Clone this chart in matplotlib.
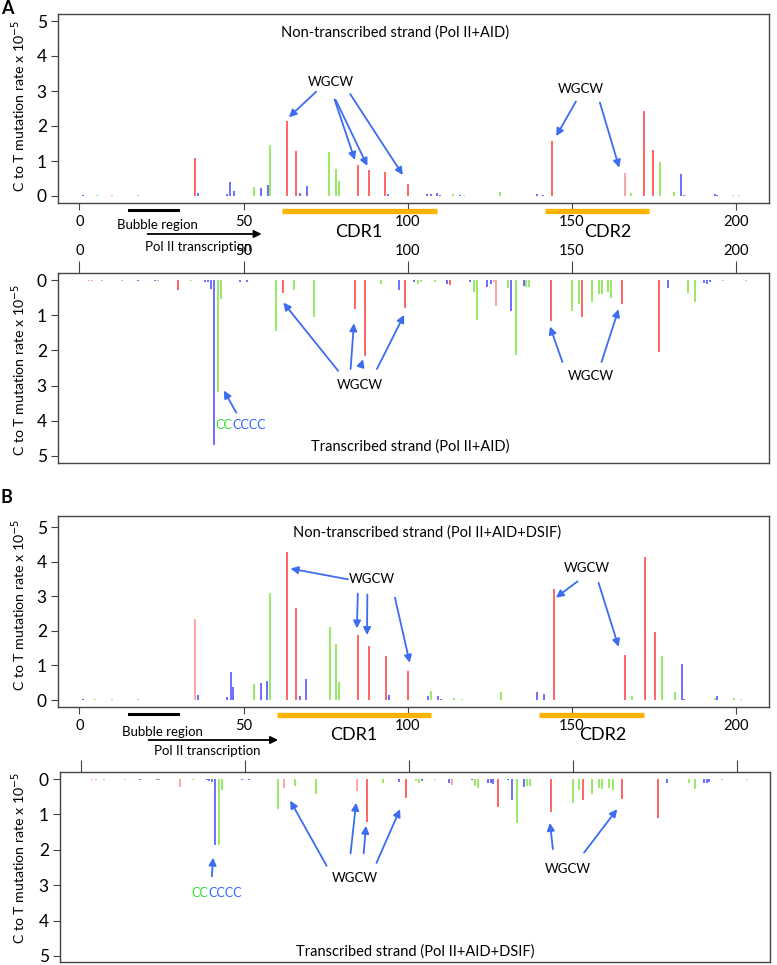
import matplotlib
matplotlib.use("Agg")
import matplotlib.pyplot as plt
from matplotlib.transforms import blended_transform_factory

plt.rcParams['font.family'] = ['Lato', 'DejaVu Sans']

# ---------------- data ----------------
# color codes: r=red, p=pink(light red), g=green, b=blue
A_nt_pos = [1, 5.3, 10, 18, 35.1, 36.2, 45, 46, 47, 53.3, 55.2, 57.3, 58, 63.2, 66, 67.1, 69.2, 76.1, 78.2, 79,
            85, 88.2, 93.2, 94, 100.1, 106, 107.2, 109, 109.8, 113.9, 116, 117, 128, 139.3, 141.2, 144, 166.2,
            168.1, 172, 174.8, 176.8, 181.1, 183.1, 184, 193.5, 194.2, 199, 201]
A_nt_val = [0.02, 0.02, 0.02, 0.02, 1.08, 0.1, 0.06, 0.41, 0.15, 0.26, 0.24, 0.31, 1.46, 2.14, 1.29, 0.1, 0.3, 1.25,
            0.76, 0.43, 0.88, 0.75, 0.7, 0.06, 0.35, 0.06, 0.07, 0.1, 0.04, 0.06, 0.02, 0.02, 0.11, 0.06, 0.04,
            1.57, 0.67, 0.1, 2.43, 1.31, 0.98, 0.12, 0.62, 0.02, 0.06, 0.03, 0.03, 0.03]
A_nt_col = ['b', 'g', 'p', 'p', 'r', 'b', 'b', 'b', 'b', 'g', 'b', 'b', 'g', 'r', 'r', 'b', 'b', 'g', 'g', 'g',
            'r', 'r', 'r', 'b', 'r', 'b', 'b', 'b', 'b', 'g', 'b', 'g', 'g', 'b', 'b', 'r', 'p', 'g', 'r', 'r',
            'g', 'g', 'b', 'b', 'b', 'b', 'g', 'g']

A_t_pos = [2.8, 3.8, 7, 13, 17.8, 23, 24, 30.1, 34, 38.3, 39.2, 40.1, 41, 42.2, 43, 48.9, 51, 60, 62, 65.3, 71.5,
           84, 87.1, 92, 97.2, 99.2, 102, 103, 104, 108.2, 112, 113, 119, 120.1, 121.1, 124.2, 125.3, 126.3, 127,
           130.4, 131.3, 133, 135.3, 136.1, 137, 143.5, 150, 152, 153, 156.1, 158.2, 159, 161.1, 162, 165.1,
           176.4, 179.2, 185.3, 187.4, 190.3, 191, 192, 196, 203]
A_t_val = [0.03, 0.03, 0.03, 0.03, 0.03, 0.03, 0.03, 0.27, 0.03, 0.05, 0.05, 0.26, 4.68, 3.18, 0.55, 0.05, 0.05,
           1.45, 0.38, 0.27, 1.06, 0.83, 2.15, 0.12, 0.28, 0.8, 0.06, 0.12, 0.06, 0.06, 0.1, 0.15, 0.05, 0.33,
           1.13, 0.19, 0.12, 0.05, 0.75, 0.24, 0.87, 2.14, 0.17, 0.19, 0.19, 1.16, 0.87, 0.68, 1.04, 0.61, 0.4,
           0.4, 0.33, 0.52, 0.69, 2.05, 0.24, 0.38, 0.61, 0.08, 0.1, 0.05, 0.03, 0.03]
A_t_col = ['p', 'p', 'p', 'p', 'b', 'b', 'p', 'r', 'g', 'b', 'b', 'b', 'b', 'g', 'g', 'b', 'b', 'g', 'r', 'g', 'g',
           'r', 'r', 'g', 'b', 'r', 'b', 'g', 'g', 'g', 'b', 'r', 'b', 'g', 'g', 'b', 'b', 'p', 'p', 'g', 'b', 'g',
           'b', 'g', 'g', 'r', 'g', 'g', 'r', 'g', 'g', 'g', 'g', 'g', 'r', 'r', 'b', 'g', 'g', 'b', 'b', 'b',
           'p', 'g']

B_nt_pos = [1, 4.9, 9.9, 18, 35.1, 36.1, 45.1, 46.1, 46.9, 53.2, 55.2, 57.1, 58.1, 63.2, 66, 67.1, 69.1, 76.3,
            78.3, 79.1, 85, 88.2, 93.3, 94.2, 100.1, 106.1, 107.2, 109.2, 110, 114, 116.4, 128.3, 139.4, 141.4,
            144.4, 166.3, 168.2, 172.3, 175.3, 177.3, 181.3, 183.4, 184, 193.5, 194.3, 199.3, 201.4]
B_nt_val = [0.03, 0.03, 0.03, 0.03, 2.34, 0.16, 0.1, 0.8, 0.39, 0.46, 0.48, 0.55, 3.1, 4.28, 2.66, 0.13, 0.61,
            2.1, 1.63, 0.53, 1.88, 1.55, 1.28, 0.16, 0.84, 0.12, 0.25, 0.13, 0.03, 0.05, 0.03, 0.22, 0.23, 0.17,
            3.2, 1.31, 0.12, 4.13, 1.96, 1.28, 0.23, 1.05, 0.03, 0.05, 0.12, 0.05, 0.03]
B_nt_col = ['b', 'g', 'p', 'p', 'p', 'b', 'b', 'b', 'b', 'g', 'b', 'b', 'g', 'r', 'r', 'b', 'b', 'g', 'g', 'g',
            'r', 'r', 'r', 'b', 'r', 'b', 'g', 'b', 'b', 'g', 'g', 'g', 'b', 'b', 'r', 'r', 'g', 'r', 'r', 'g',
            'g', 'b', 'b', 'g', 'b', 'g', 'g']

B_t_pos = [3.2, 4.4, 7, 13.2, 18, 23, 23.8, 30.2, 34, 38.2, 39, 39.9, 40.9, 42, 42.8, 48.9, 51, 60, 61.9, 65.1,
           71.6, 84, 87, 92.1, 97, 99, 102, 103, 104, 107.8, 112, 113, 119, 120, 121, 124.1, 124.8, 125.6, 127,
           130, 131.2, 132.8, 135, 135.9, 136.7, 143.1, 149.9, 151.8, 153, 155.8, 157.9, 158.9, 160.8, 162,
           164.8, 175.9, 178.7, 185.3, 187.1, 190, 190.7, 191.4, 195.3, 203]
B_t_val = [0.03, 0.03, 0.03, 0.03, 0.03, 0.03, 0.03, 0.22, 0.03, 0.03, 0.05, 0.08, 1.87, 1.87, 0.31, 0.03, 0.03,
           0.85, 0.24, 0.19, 0.41, 0.33, 1.21, 0.12, 0.08, 0.54, 0.06, 0.12, 0.06, 0.03, 0.1, 0.16, 0.03, 0.19,
           0.26, 0.1, 0.12, 0.14, 0.8, 0.03, 0.59, 1.25, 0.22, 0.19, 0.19, 0.94, 0.67, 0.31, 0.58, 0.42, 0.26,
           0.29, 0.26, 0.31, 0.56, 1.11, 0.12, 0.12, 0.28, 0.1, 0.12, 0.08, 0.03, 0.03]
B_t_col = ['p', 'p', 'p', 'p', 'b', 'b', 'p', 'p', 'g', 'b', 'b', 'b', 'b', 'g', 'g', 'b', 'b', 'g', 'p', 'g', 'g',
           'p', 'r', 'g', 'b', 'r', 'g', 'g', 'b', 'g', 'b', 'p', 'b', 'g', 'g', 'b', 'b', 'b', 'r', 'b', 'b', 'g',
           'b', 'g', 'g', 'r', 'g', 'g', 'r', 'g', 'g', 'g', 'g', 'g', 'r', 'r', 'b', 'g', 'g', 'b', 'b', 'b',
           'p', 'g']

x_ticks = [0, 50, 100, 150, 200]
y_ticks = [0, 1, 2, 3, 4, 5]

COLORS = {'r': '#ff3b3b', 'p': '#ff8a8a', 'g': '#7de33a', 'b': '#4646ff'}
ARROW = '#3c6cf0'

W, H = 777, 965
fig = plt.figure(figsize=(W / 100, H / 100), dpi=100)


def add_ax(left, top, right, bottom):
    return fig.add_axes([left / W, 1 - bottom / H, (right - left) / W, (bottom - top) / H])


XLIM = (-6.5, 210)


def style(ax, ylim, top_axis, show_xlabels=True):
    ax.set_xlim(*XLIM)
    ax.set_ylim(*ylim)
    for s in ax.spines.values():
        s.set_color('#444444')
        s.set_linewidth(1.0)
    ax.set_yticks(y_ticks)
    ax.set_xticks(x_ticks)
    ax.tick_params(axis='y', labelsize=12.5, length=5, color='#444444', pad=3)
    if top_axis:
        ax.xaxis.tick_top()
        ax.tick_params(axis='x', labelsize=10.5, length=9, color='#444444', pad=2,
                       labeltop=show_xlabels)
    else:
        ax.tick_params(axis='x', labelsize=10.5, length=5, color='#444444', pad=4)


def bars(ax, pos, val, col):
    for x, v, c in zip(pos, val, col):
        ax.vlines(x, 0, v, colors=COLORS[c], lw=1.1)


def arrow(ax, xy_from, xy_to):
    ax.annotate('', xy=xy_to, xytext=xy_from,
                arrowprops=dict(arrowstyle='-|>', color=ARROW, lw=1.3, mutation_scale=11,
                                shrinkA=0, shrinkB=0))


def ylabel(ycenter):
    fig.text(19 / W, 1 - ycenter / H, r'C to T mutation rate x 10$^{-5}$', rotation=90,
             ha='center', va='center', fontsize=10.2)


def cccccc(ax, xsplit, y):
    ax.text(xsplit, y, 'CC', color='#33dd33', ha='right', va='center', fontsize=9)
    ax.text(xsplit, y, 'CCCC', color='#3366ff', ha='left', va='center', fontsize=9)


def between(ax, yb_line, yb_text, y_arrow, arrow_x, y_pol, pol_x, y_cdr, cdr1, cdr2, y_cdrtext,
            cdr1_x, cdr2_x, bub_x):
    tr = blended_transform_factory(ax.transData, fig.transFigure)
    fy = lambda p: 1 - p / H
    ax.plot([15, 30], [fy(yb_line)] * 2, color='black', lw=2.2, transform=tr, clip_on=False)
    ax.text(bub_x, fy(yb_text), 'Bubble region', transform=tr, ha='center', va='center', fontsize=9.5)
    ax.annotate('', xy=(arrow_x[1], fy(y_arrow)), xytext=(arrow_x[0], fy(y_arrow)),
                xycoords=tr, textcoords=tr,
                arrowprops=dict(arrowstyle='-|>', color='black', lw=1.3, mutation_scale=11,
                                shrinkA=0, shrinkB=0))
    ax.text(pol_x, fy(y_pol), 'Pol II transcription', transform=tr, ha='center', va='center', fontsize=9.5)
    ax.plot(cdr1, [fy(y_cdr)] * 2, color='#ffb300', lw=3.8, transform=tr, clip_on=False,
            solid_capstyle='butt')
    ax.plot(cdr2, [fy(y_cdr)] * 2, color='#ffb300', lw=3.8, transform=tr, clip_on=False,
            solid_capstyle='butt')
    ax.text(cdr1_x, fy(y_cdrtext), 'CDR1', transform=tr, ha='center', va='center', fontsize=13)
    ax.text(cdr2_x, fy(y_cdrtext), 'CDR2', transform=tr, ha='center', va='center', fontsize=13)


TFS = 10.5  # panel title size
WFS = 9.5   # WGCW size

# ---------------- Panel A: non-transcribed ----------------
ax1 = add_ax(58, 14, 769, 203)
style(ax1, (-0.2, 5.2), top_axis=False)
bars(ax1, A_nt_pos, A_nt_val, A_nt_col)
ax1.text(96, 4.67, 'Non-transcribed strand (Pol II+AID)', ha='center', va='center', fontsize=TFS)
ax1.text(76.6, 3.27, 'WGCW', ha='center', va='center', fontsize=WFS)
arrow(ax1, (72.1, 2.98), (63.8, 2.25))
arrow(ax1, (77.7, 2.76), (83.9, 1.03))
arrow(ax1, (78.1, 2.74), (87.7, 0.86))
arrow(ax1, (82.5, 2.91), (98.5, 0.6))
ax1.text(152.6, 3.05, 'WGCW', ha='center', va='center', fontsize=WFS)
arrow(ax1, (151.2, 2.7), (145.2, 1.71))
arrow(ax1, (158.5, 2.67), (164.4, 0.81))
between(ax1, 210, 225, 234, (20.8, 55.5), 247, 36.3, 211, (61.6, 108.8), (141.8, 173.5), 232, 85, 161, 23.8)

# ---------------- Panel A: transcribed ----------------
ax2 = add_ax(58, 273, 769, 463)
style(ax2, (5.2, -0.2), top_axis=True)
bars(ax2, A_t_pos, A_t_val, A_t_col)
ax2.text(100.7, 4.72, 'Transcribed strand (Pol II+AID)', ha='center', va='center', fontsize=TFS)
ax2.text(85.3, 2.99, 'WGCW', ha='center', va='center', fontsize=WFS)
arrow(ax2, (78.8, 2.58), (62.1, 0.64))
arrow(ax2, (82.6, 2.53), (83.6, 1.23))
arrow(ax2, (85.7, 2.45), (86.4, 2.25))
arrow(ax2, (90.6, 2.53), (98.9, 0.99))
ax2.text(155.8, 2.74, 'WGCW', ha='center', va='center', fontsize=WFS)
arrow(ax2, (147.1, 2.33), (143.3, 1.32))
arrow(ax2, (159.0, 2.33), (164.2, 0.83))
cccccc(ax2, 46.6, 4.12)
arrow(ax2, (47.8, 3.77), (44.0, 3.14))

# ---------------- Panel B: non-transcribed ----------------
ax3 = add_ax(58, 516, 769, 707)
style(ax3, (-0.2, 5.32), top_axis=False)
bars(ax3, B_nt_pos, B_nt_val, B_nt_col)
ax3.text(105.8, 4.85, 'Non-transcribed strand (Pol II+AID+DSIF)', ha='center', va='center', fontsize=TFS)
ax3.text(89.1, 3.49, 'WGCW', ha='center', va='center', fontsize=WFS)
arrow(ax3, (81.8, 3.49), (64.3, 3.8))
arrow(ax3, (84.8, 3.08), (84.5, 2.07))
arrow(ax3, (87.7, 3.05), (87.6, 1.88))
arrow(ax3, (96.1, 2.96), (100.6, 1.08))
ax3.text(154.6, 3.83, 'WGCW', ha='center', va='center', fontsize=WFS)
arrow(ax3, (151.7, 3.43), (145.1, 2.96))
arrow(ax3, (158.1, 3.39), (164.2, 1.54))
between(ax3, 714, 732, 740, (21.1, 60.5), 751, 38.8, 715, (60.3, 107), (140, 171.8), 735, 83.7, 159.5, 25.3)

# ---------------- Panel B: transcribed ----------------
ax4 = add_ax(60, 772, 770, 962)
style(ax4, (5.17, -0.2), top_axis=True, show_xlabels=False)
bars(ax4, B_t_pos, B_t_val, B_t_col)
ax4.text(101.8, 4.88, 'Transcribed strand (Pol II+AID+DSIF)', ha='center', va='center', fontsize=TFS)
ax4.text(83.5, 2.81, 'WGCW', ha='center', va='center', fontsize=WFS)
arrow(ax4, (74.8, 2.45), (63.7, 0.61))
arrow(ax4, (82.1, 2.1), (83.8, 0.67))
arrow(ax4, (86.1, 2.1), (86.8, 1.32))
arrow(ax4, (90.0, 2.37), (97.2, 0.85))
ax4.text(148.5, 2.53, 'WGCW', ha='center', va='center', fontsize=WFS)
arrow(ax4, (143.8, 1.98), (142.9, 1.24))
arrow(ax4, (153.3, 2.08), (163.4, 0.85))
cccccc(ax4, 38.6, 3.21)
arrow(ax4, (39.8, 2.75), (40.2, 2.22))

# y labels and panel letters
ylabel(106)
ylabel(370)
ylabel(605)
ylabel(858)
fig.text(1 / W, 1 - 8 / H, 'A', fontsize=13, fontweight='bold', ha='left', va='center')
fig.text(1 / W, 1 - 497 / H, 'B', fontsize=13, fontweight='bold', ha='left', va='center')

fig.savefig('out.png', dpi=100)
